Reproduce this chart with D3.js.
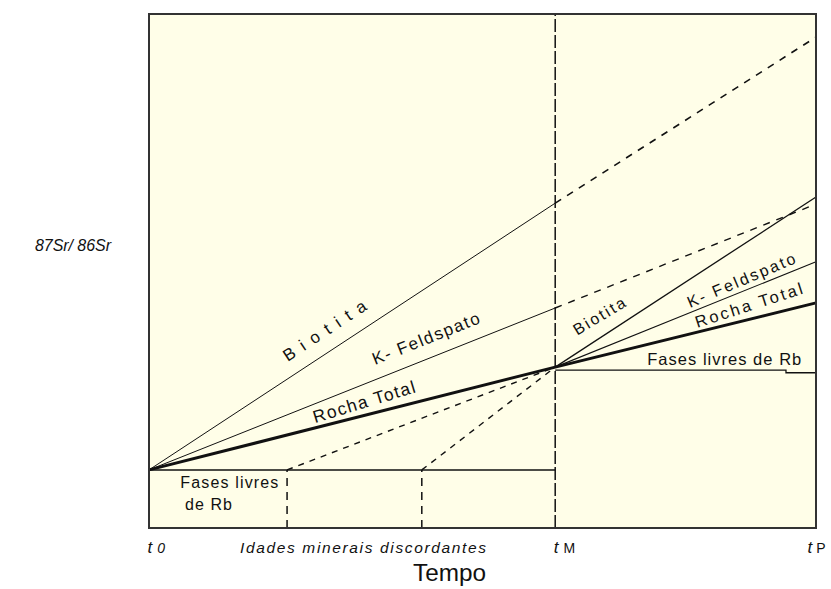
<!DOCTYPE html>
<html>
<head>
<meta charset="utf-8">
<script src="https://cdn.jsdelivr.net/npm/d3@7"></script>
<style>
  body { margin: 0; background: #fff; }
  text { font-family: "Liberation Sans", Arial, sans-serif; fill: #111; }
</style>
</head>
<body>
<div id="chart"></div>
<script>
// time axis: t0 = 0, tP = 100 ; y: relative 87Sr/86Sr level (0 = bottom, 100 = top)
const T0 = 0, TM = 60.9, TP = 100
const discordantAges = [20.7, 40.9]
const timeTicks = [T0, TM, TP]
const timeTickLabels = [["t", "0"], ["t", "M"], ["t", "P"]]

// closed system evolution t0 -> tM
const rochaTotal = [[T0, 11.3], [TM, 31.3], [TP, 43.8]]
const kFeldspato1 = [[T0, 11.3], [TM, 42.8]]
const biotita1 = [[T0, 11.3], [TM, 63.2]]
const fasesLivres1 = [[T0, 11.3], [TM, 11.3]]

// undisturbed continuation (dashed)
const kFeldspatoDash = [[TM, 42.8], [99, 62.5], [TP, 62.5]]
const biotitaDash = [[TM, 63.2], [TP, 95.5]]

// re-homogenised at tM, then evolving to tP
const kFeldspato2 = [[TM, 31.3], [TP, 51.8]]
const biotita2 = [[TM, 31.3], [TP, 64.4]]
const fasesLivres2 = [[TM, 30.7], [95.5, 30.7], [95.5, 30.2], [TP, 30.2]]

// discordant mineral ages (dashed)
const discordant1 = [[discordantAges[0], 11.3], [TM, 31.3]]
const discordant2 = [[discordantAges[1], 11.3], [TM, 31.3]]

const cfg = {
    width: 831,
    height: 589,
    margin: { top: 14, right: 15, bottom: 61, left: 149 }
}

const w = cfg.width - cfg.margin.left - cfg.margin.right
const h = cfg.height - cfg.margin.top - cfg.margin.bottom

const svg = d3.select("#chart")
    .append("svg")
    .attr("width", cfg.width)
    .attr("height", cfg.height)

const g = svg.append("g")
    .attr("transform", "translate(" + cfg.margin.left + "," + cfg.margin.top + ")")

const x = d3.scaleLinear().domain([T0, TP]).range([0, w])
const y = d3.scaleLinear().domain([0, 100]).range([h, 0])

const line = d3.line().x(d => x(d[0])).y(d => y(d[1]))

// plot background
g.append("rect")
    .attr("width", w)
    .attr("height", h)
    .attr("fill", "#fffee8")

// series lines
const solid = (data, sw) => g.append("path")
    .datum(data)
    .attr("d", line)
    .attr("fill", "none")
    .attr("stroke", "#111")
    .attr("stroke-width", sw)

const dashed = (data, dash, sw) => g.append("path")
    .datum(data)
    .attr("d", line)
    .attr("fill", "none")
    .attr("stroke", "#111")
    .attr("stroke-width", sw || 1.4)
    .attr("stroke-dasharray", dash)

// vertical dashed markers
dashed([[TM, 0], [TM, 100]], "13,3", 1.5)
discordantAges.forEach(a => dashed([[a, 0], [a, 11.3]], "8,6", 1.5))

dashed(discordant1, "6,6")
dashed(discordant2, "6,6")
dashed(kFeldspatoDash, "7,7")
dashed(biotitaDash, "7,7", 1.6)

solid(fasesLivres1, 1.5)
solid(fasesLivres2, 1.3)
solid(biotita1, 1)
solid(kFeldspato1, 1)
solid(biotita2, 1.3)
solid(kFeldspato2, 1.1)
solid(rochaTotal, 3)

// frame
g.append("rect")
    .attr("width", w)
    .attr("height", h)
    .attr("fill", "none")
    .attr("stroke", "#333")
    .attr("stroke-width", 2)

// line labels along the slopes
const label = (txt, t, v, angle, size, len) => g.append("text")
    .attr("transform", "translate(" + x(t) + "," + y(v) + ") rotate(" + angle + ")")
    .attr("font-size", size)
    .attr("textLength", len)
    .attr("lengthAdjust", "spacing")
    .text(txt)

label("Biotita", 20.8, 32.3, -33.5, 17, 96)
label("K- Feldspato", 33.9, 31.7, -21.8, 17, 114)
label("Rocha Total", 24.9, 20.4, -17, 17.5, 106)
label("Biotita", 64.2, 37.4, -31, 16, 58)
label("K- Feldspato", 81.1, 42.8, -23, 16, 116)
label("Rocha Total", 82.2, 38.9, -18, 16.5, 112)

const plain = (txt, t, v, size, len) => g.append("text")
    .attr("x", x(t))
    .attr("y", y(v))
    .attr("font-size", size)
    .attr("textLength", len)
    .attr("lengthAdjust", "spacing")
    .text(txt)

plain("Fases livres de Rb", 74.7, 31.7, 16.5, 154)
plain("Fases livres", 4.7, 7.8, 16, 98)
plain("de Rb", 5.4, 3.5, 16, 47)

// time axis: tick labels only
const xAxis = g.append("g")
    .attr("transform", "translate(0," + h + ")")
    .call(d3.axisBottom(x).tickValues(timeTicks).tickSize(0).tickFormat(""))

xAxis.select(".domain").remove()
xAxis.selectAll(".tick text").remove()
xAxis.selectAll(".tick").each(function (d, i) {
    const t = d3.select(this).append("text")
        .attr("x", i === 2 ? -9 : -2)
        .attr("y", 25)
        .attr("text-anchor", "start")
        .attr("fill", "#111")
    t.append("tspan")
        .attr("font-size", 17)
        .attr("font-style", "italic")
        .text(timeTickLabels[i][0])
    t.append("tspan")
        .attr("dx", i === 2 ? 4 : 5)
        .attr("font-size", 14)
        .attr("font-style", i === 0 ? "italic" : "normal")
        .text(timeTickLabels[i][1])
})

g.append("text")
    .attr("x", 240 - cfg.margin.left)
    .attr("y", h + 25)
    .attr("font-size", 15.5)
    .attr("font-style", "italic")
    .attr("textLength", 246)
    .attr("lengthAdjust", "spacing")
    .text("Idades minerais discordantes")

g.append("text")
    .attr("x", 413 - cfg.margin.left)
    .attr("y", h + 53)
    .attr("font-size", 23)
    .attr("textLength", 73)
    .attr("lengthAdjust", "spacingAndGlyphs")
    .text("Tempo")

// y label
svg.append("text")
    .attr("x", 35)
    .attr("y", 251)
    .attr("font-size", 16)
    .attr("font-style", "italic")
    .attr("textLength", 76)
    .text("87Sr/ 86Sr")
</script>
</body>
</html>
